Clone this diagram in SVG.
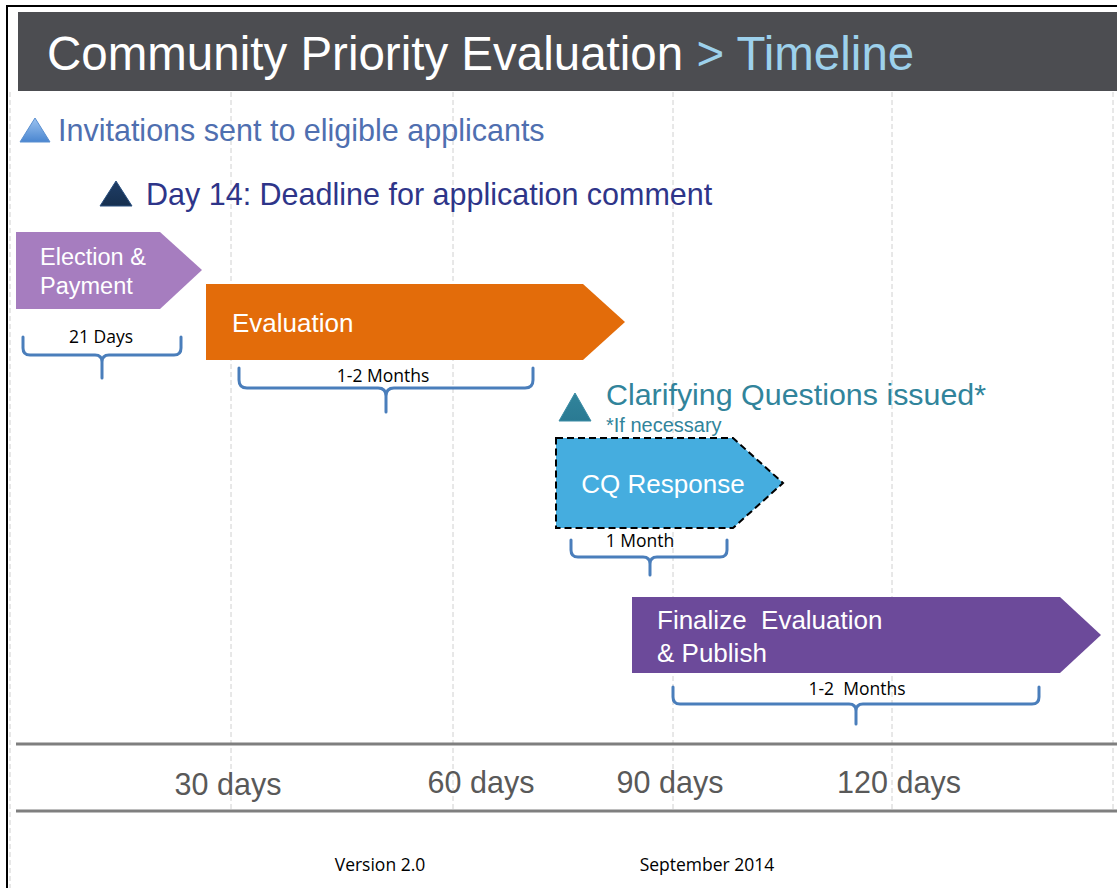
<svg xmlns="http://www.w3.org/2000/svg" width="1117" height="888" viewBox="0 0 1117 888">
<defs>
<linearGradient id="tri1" x1="0" y1="0" x2="0" y2="1"><stop offset="0" stop-color="#9cc3f0"/><stop offset="1" stop-color="#4a86d0"/></linearGradient>
<linearGradient id="tri2" x1="0" y1="0" x2="0" y2="1"><stop offset="0" stop-color="#1f3d66"/><stop offset="1" stop-color="#16304f"/></linearGradient>
<linearGradient id="tri3" x1="0" y1="0" x2="0" y2="1"><stop offset="0" stop-color="#31849b"/><stop offset="1" stop-color="#2a7a93"/></linearGradient>
</defs>
<style>
.grid{stroke:#d0d0d0;stroke-width:1;stroke-dasharray:5 3;fill:none}
.axis{stroke:#7f7f7f;stroke-width:3}
.brace{fill:none;stroke:#4a7ebb;stroke-width:3;stroke-linecap:round;stroke-linejoin:round}
.sans{font-family:"Liberation Sans",Arial,sans-serif}
.small{font-family:"Open Sans","Liberation Sans",sans-serif;font-size:17.5px;fill:#000}
.white{fill:#fff;font-size:26px}
.day{font-family:"Liberation Sans",Arial,sans-serif;font-size:30.5px;fill:#595959}
</style>
<rect width="1117" height="888" fill="#fff"/>
<g id="frame">
<line x1="7" y1="5" x2="7" y2="888" stroke="#000" stroke-width="2"/>
<line x1="6" y1="6" x2="1117" y2="6" stroke="#000" stroke-width="2"/>
</g>
<g id="grid">
<line class="grid" x1="10" y1="92" x2="10" y2="888"/>
<line class="grid" x1="231" y1="12" x2="231" y2="811"/>
<line class="grid" x1="453" y1="92" x2="453" y2="811"/>
<line class="grid" x1="673" y1="92" x2="673" y2="811"/>
<line class="grid" x1="892" y1="12" x2="892" y2="811"/>
<line class="grid" x1="1113" y1="12" x2="1113" y2="811"/>
</g>
<g id="title">
<rect x="18" y="12" width="1099" height="79" fill="#4c4d51"/>
<text x="47" y="70" class="sans" font-size="47.5" fill="#fff">Community Priority Evaluation <tspan fill="#9dd1ec">&gt; Timeline</tspan></text>
</g>
<g id="invitations">
<polygon points="20,142 35,118 50,142" fill="url(#tri1)" stroke="#5a8fd0" stroke-width="1"/>
<text x="58" y="141" class="sans" font-size="30.5" fill="#4f6fb0">Invitations sent to eligible applicants</text>
</g>
<g id="deadline">
<polygon points="100,206 116,181 132,206" fill="url(#tri2)" stroke="#2a5080" stroke-width="1"/>
<text x="146" y="205" class="sans" font-size="30.5" fill="#2e3589">Day 14: Deadline for application comment</text>
</g>
<g id="election">
<polygon points="16,232 160,232 202,270 160,309 16,309" fill="#a67dbf"/>
<text x="40" y="265" class="sans" font-size="23.5" fill="#fff">Election &amp;</text>
<text x="40" y="294" class="sans" font-size="23.5" fill="#fff">Payment</text>
</g>
<g id="evaluation">
<polygon points="206,284 583,284 625,322 583,360 206,360" fill="#e36c0a"/>
<text x="232" y="332" class="sans white">Evaluation</text>
</g>
<g id="clarifying">
<polygon points="559,421 575,393 591,421" fill="url(#tri3)" stroke="#3b8ca5" stroke-width="1"/>
<text x="606" y="405" class="sans" font-size="30.4" fill="#31849b">Clarifying Questions issued*</text>
<text x="606" y="432" class="sans" font-size="20" fill="#31849b">*If necessary</text>
</g>
<g id="cq">
<polygon points="556,438 733,438 783,483 733,528 556,528" fill="#45addf" stroke="#000" stroke-width="2" stroke-dasharray="7 4"/>
<text x="663" y="493" class="sans white" text-anchor="middle" font-size="26.5">CQ Response</text>
</g>
<g id="finalize">
<polygon points="632,597 1060,597 1101,635 1060,673 632,673" fill="#6c4a9a"/>
<text x="657" y="629" class="sans white" xml:space="preserve">Finalize  Evaluation</text>
<text x="657" y="662" class="sans white">&amp; Publish</text>
</g>
<g id="connectors">
<path class="brace" d="M23,337 V348 Q23,355 30,355 H95 Q102,355 102,362 V378 M102,362 Q102,355 109,355 H174 Q181,355 181,348 V337"/>
<path class="brace" d="M239,368 V380 Q239,388 247,388 H378 Q386,388 386,396 V412 M386,396 Q386,388 394,388 H525 Q533,388 533,380 V368"/>
<path class="brace" d="M571,540 V550 Q571,557 578,557 H643 Q650,557 650,564 V575 M650,564 Q650,557 657,557 H720 Q727,557 727,550 V540"/>
<path class="brace" d="M673,687 V697 Q673,704 680,704 H849 Q856,704 856,711 V724 M856,711 Q856,704 863,704 H1032 Q1039,704 1039,697 V687"/>
</g>
<g id="brace-labels">
<text x="101" y="343" class="small" text-anchor="middle">21 Days</text>
<text x="383" y="382" class="small" text-anchor="middle">1-2 Months</text>
<text x="640" y="547" class="small" text-anchor="middle">1 Month</text>
<text x="857" y="695" class="small" text-anchor="middle" xml:space="preserve">1-2  Months</text>
</g>
<g id="axis">
<line class="axis" x1="16" y1="744" x2="1117" y2="744"/>
<line class="axis" x1="16" y1="811" x2="1117" y2="811"/>
<text x="228" y="795" class="day" text-anchor="middle">30 days</text>
<text x="481" y="793" class="day" text-anchor="middle">60 days</text>
<text x="670" y="793" class="day" text-anchor="middle">90 days</text>
<text x="899" y="793" class="day" text-anchor="middle">120 days</text>
</g>
<g id="footer">
<text x="380" y="871" class="small" text-anchor="middle">Version 2.0</text>
<text x="707" y="871" class="small" text-anchor="middle">September 2014</text>
</g>
</svg>
